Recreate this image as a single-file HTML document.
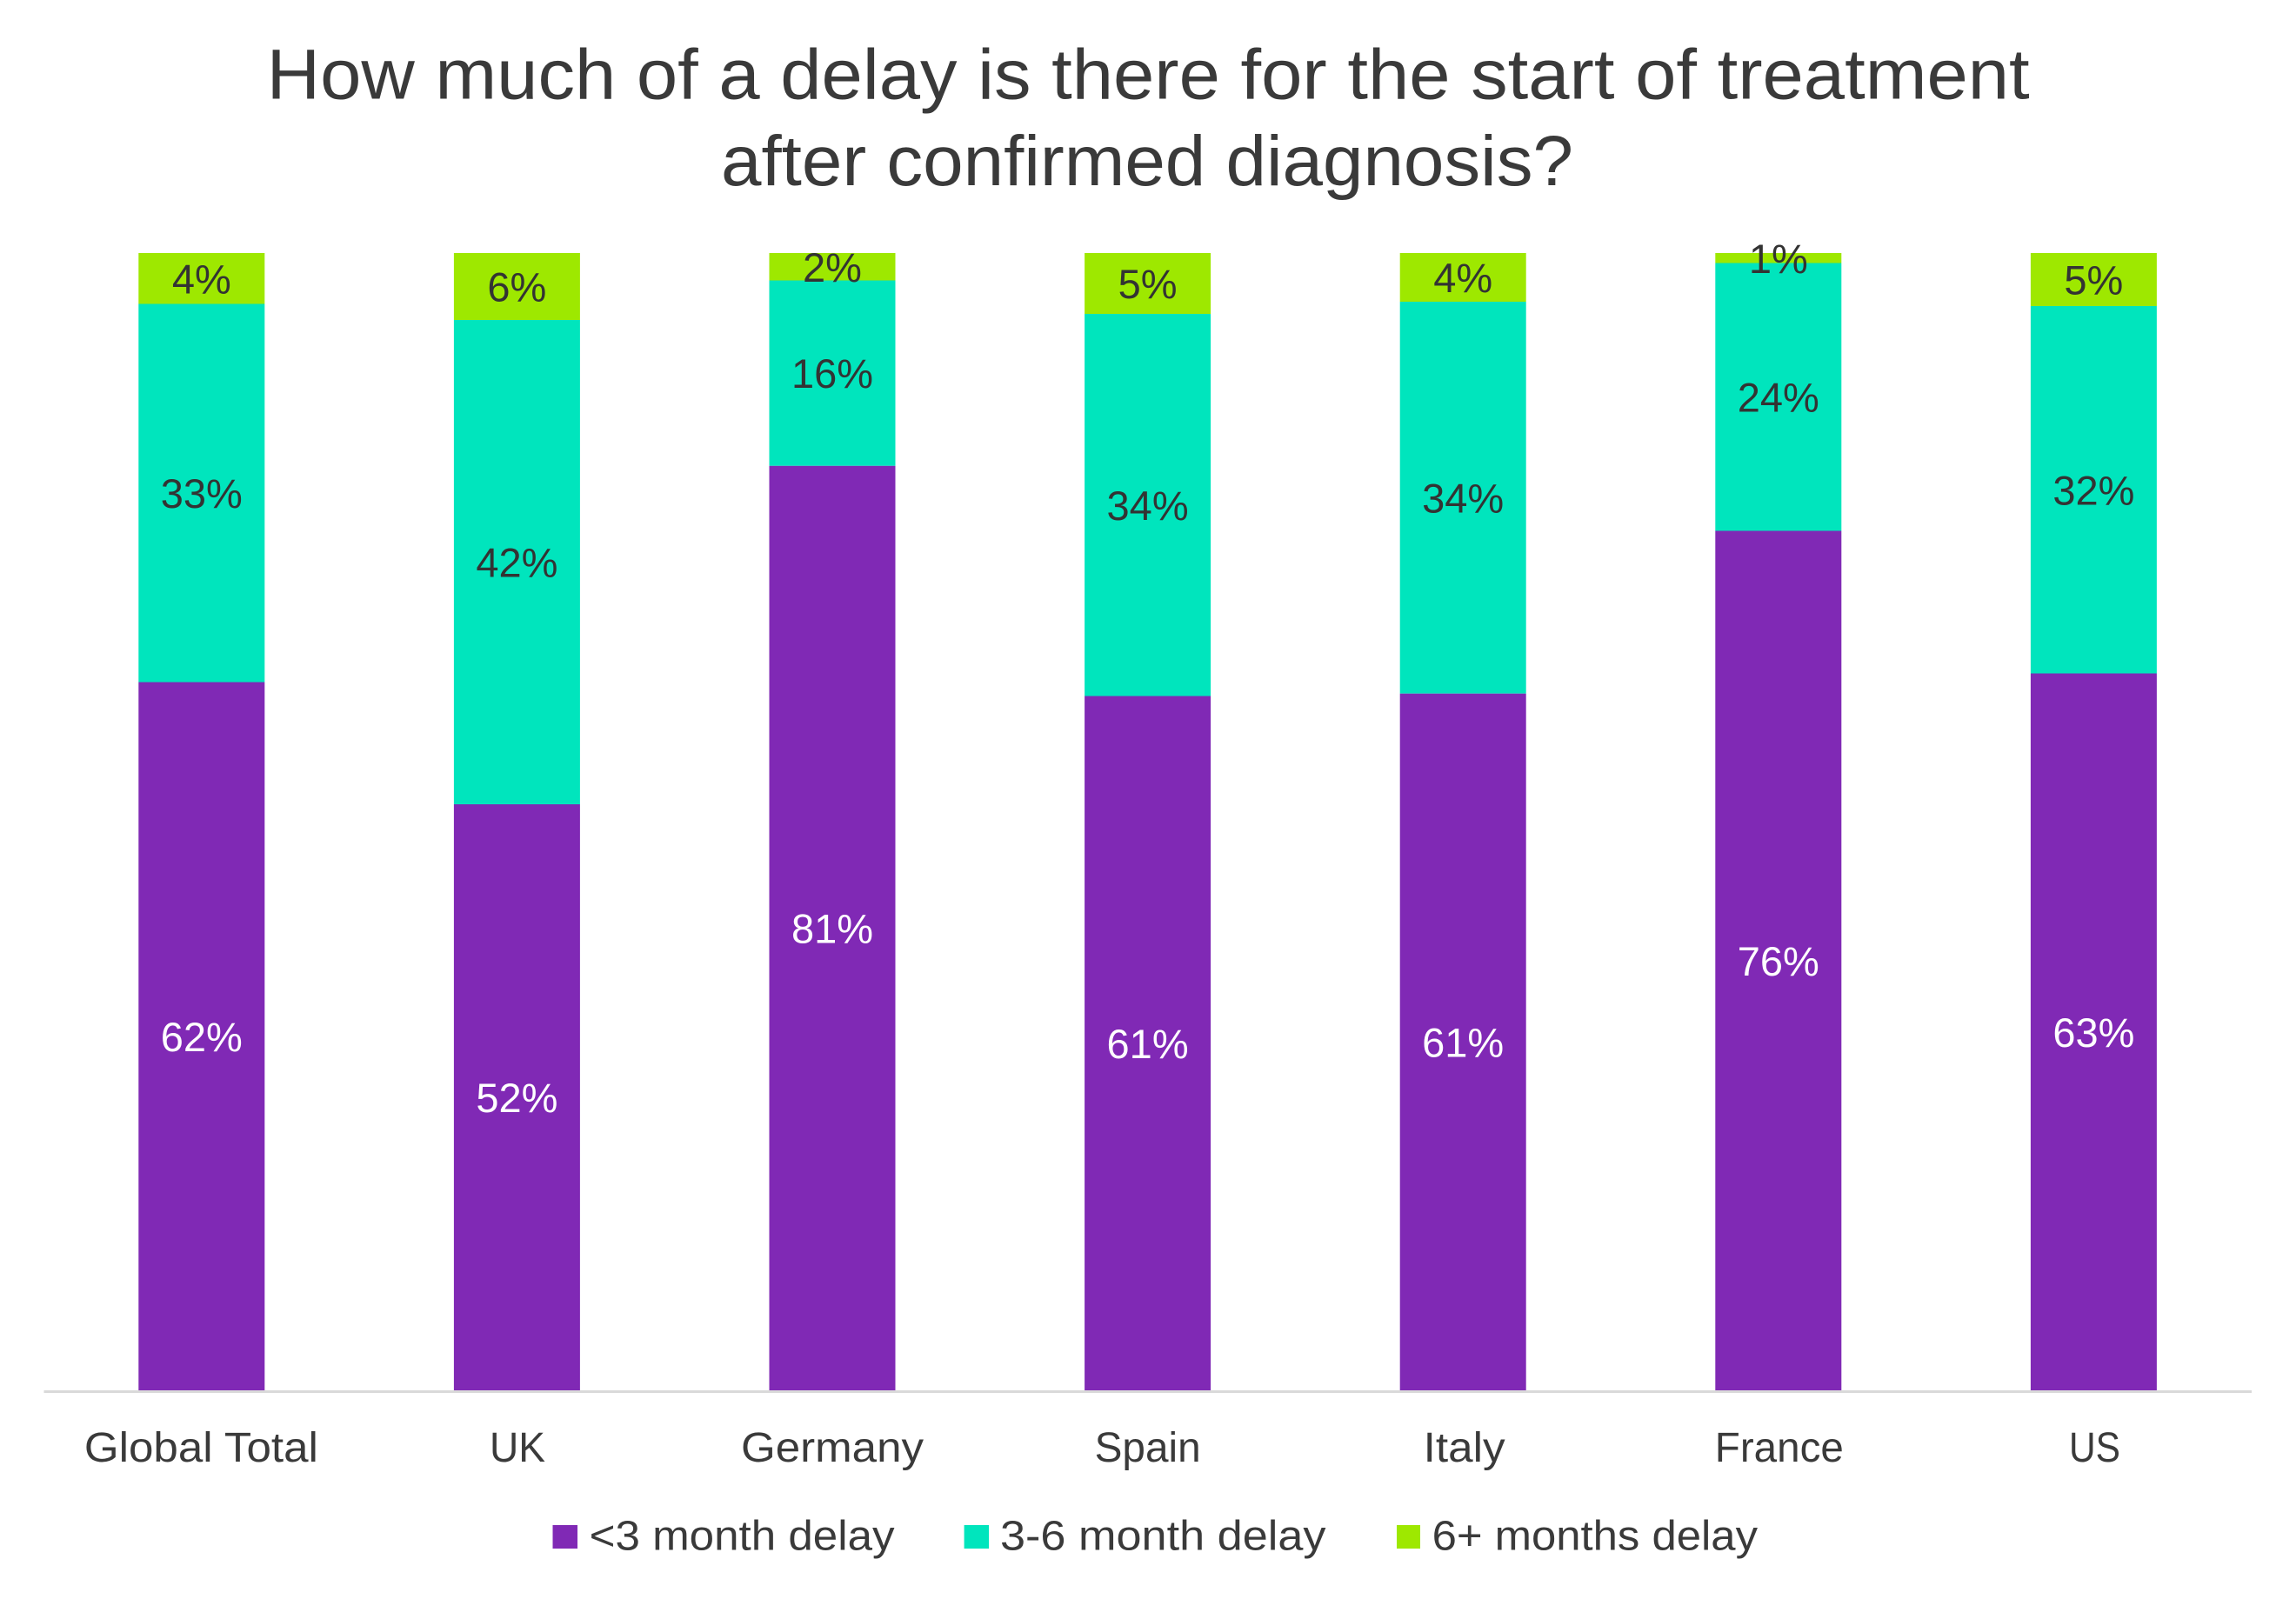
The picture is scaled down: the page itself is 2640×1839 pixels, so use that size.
<!DOCTYPE html>
<html>
<head>
<meta charset="utf-8">
<style>
  html, body { margin: 0; padding: 0; background: #ffffff; }
  body { width: 2640px; height: 1839px; overflow: hidden; }
  svg { display: block; }
  text { font-family: "Liberation Sans", "DejaVu Sans", sans-serif; }
</style>
</head>
<body>
<svg width="2640" height="1839" viewBox="0 0 2640 1839" xmlns="http://www.w3.org/2000/svg">
  <rect x="0" y="0" width="2640" height="1839" fill="#ffffff"/>

  <!-- Title -->
  <text x="306.7" y="113.3" font-size="82" fill="#3a3a3a" textLength="2027" lengthAdjust="spacingAndGlyphs">How much of a delay is there for the start of treatment</text>
  <text x="829" y="213" font-size="82" fill="#3a3a3a" textLength="980" lengthAdjust="spacingAndGlyphs">after confirmed diagnosis?</text>

  <!-- Bars -->
  <g>
    <!-- Global Total -->
    <rect x="159.3" y="291" width="145" height="58.5" fill="#9ee800"/>
    <rect x="159.3" y="349.5" width="145" height="435" fill="#00e5bd"/>
    <rect x="159.3" y="784.5" width="145" height="815" fill="#8029b5"/>
    <!-- UK -->
    <rect x="521.9" y="291" width="145" height="77" fill="#9ee800"/>
    <rect x="521.9" y="368" width="145" height="557" fill="#00e5bd"/>
    <rect x="521.9" y="925" width="145" height="674.5" fill="#8029b5"/>
    <!-- Germany -->
    <rect x="884.5" y="291" width="145" height="31.5" fill="#9ee800"/>
    <rect x="884.5" y="322.5" width="145" height="213.3" fill="#00e5bd"/>
    <rect x="884.5" y="535.8" width="145" height="1063.7" fill="#8029b5"/>
    <!-- Spain -->
    <rect x="1247.1" y="291" width="145" height="70" fill="#9ee800"/>
    <rect x="1247.1" y="361" width="145" height="439.5" fill="#00e5bd"/>
    <rect x="1247.1" y="800.5" width="145" height="799" fill="#8029b5"/>
    <!-- Italy -->
    <rect x="1609.7" y="291" width="145" height="56" fill="#9ee800"/>
    <rect x="1609.7" y="347" width="145" height="450.7" fill="#00e5bd"/>
    <rect x="1609.7" y="797.7" width="145" height="801.8" fill="#8029b5"/>
    <!-- France -->
    <rect x="1972.3" y="291" width="145" height="11.5" fill="#9ee800"/>
    <rect x="1972.3" y="302.5" width="145" height="308" fill="#00e5bd"/>
    <rect x="1972.3" y="610.5" width="145" height="989" fill="#8029b5"/>
    <!-- US -->
    <rect x="2334.9" y="291" width="145" height="61" fill="#9ee800"/>
    <rect x="2334.9" y="352" width="145" height="422.5" fill="#00e5bd"/>
    <rect x="2334.9" y="774.5" width="145" height="825" fill="#8029b5"/>
  </g>

  <!-- Axis line -->
  <rect x="50.5" y="1599" width="2538.5" height="3" fill="#d9d9d9"/>

  <!-- Data labels -->
  <g font-size="47" text-anchor="middle">
    <g fill="#333333">
      <text x="231.8" y="337.3">4%</text>
      <text x="231.8" y="584">33%</text>
      <text x="594.4" y="346.5">6%</text>
      <text x="594.4" y="663.5">42%</text>
      <text x="957" y="323.8">2%</text>
      <text x="957" y="446.2">16%</text>
      <text x="1319.6" y="343">5%</text>
      <text x="1319.6" y="597.8">34%</text>
      <text x="1682.2" y="336">4%</text>
      <text x="1682.2" y="589.4">34%</text>
      <text x="2044.8" y="313.8">1%</text>
      <text x="2044.8" y="473.5">24%</text>
      <text x="2407.4" y="338.5">5%</text>
      <text x="2407.4" y="580.3">32%</text>
    </g>
    <g fill="#ffffff">
      <text x="231.8" y="1209">62%</text>
      <text x="594.4" y="1279">52%</text>
      <text x="957" y="1084.7">81%</text>
      <text x="1319.6" y="1217">61%</text>
      <text x="1682.2" y="1215.6">61%</text>
      <text x="2044.8" y="1122">76%</text>
      <text x="2407.4" y="1204">63%</text>
    </g>
  </g>

  <!-- Category labels -->
  <g font-size="48" fill="#3a3a3a" text-anchor="middle">
    <text x="231.4" y="1681" textLength="269" lengthAdjust="spacingAndGlyphs">Global Total</text>
    <text x="595" y="1681" textLength="64" lengthAdjust="spacingAndGlyphs">UK</text>
    <text x="957" y="1681" textLength="210" lengthAdjust="spacingAndGlyphs">Germany</text>
    <text x="1319.6" y="1681" textLength="122" lengthAdjust="spacingAndGlyphs">Spain</text>
    <text x="1683.6" y="1681" textLength="94" lengthAdjust="spacingAndGlyphs">Italy</text>
    <text x="2045.8" y="1681" textLength="148" lengthAdjust="spacingAndGlyphs">France</text>
    <text x="2408.5" y="1681" textLength="59" lengthAdjust="spacingAndGlyphs">US</text>
  </g>

  <!-- Legend -->
  <rect x="635.5" y="1754" width="28.5" height="27" fill="#8029b5"/>
  <text x="677.6" y="1782.7" font-size="48" fill="#3a3a3a" textLength="351" lengthAdjust="spacingAndGlyphs">&lt;3 month delay</text>
  <rect x="1108.6" y="1754" width="28.5" height="27" fill="#00e5bd"/>
  <text x="1150" y="1782.7" font-size="48" fill="#3a3a3a" textLength="374.5" lengthAdjust="spacingAndGlyphs">3-6 month delay</text>
  <rect x="1606" y="1754" width="27" height="27" fill="#9ee800"/>
  <text x="1646.6" y="1782.7" font-size="48" fill="#3a3a3a" textLength="374.4" lengthAdjust="spacingAndGlyphs">6+ months delay</text>
</svg>
</body>
</html>
